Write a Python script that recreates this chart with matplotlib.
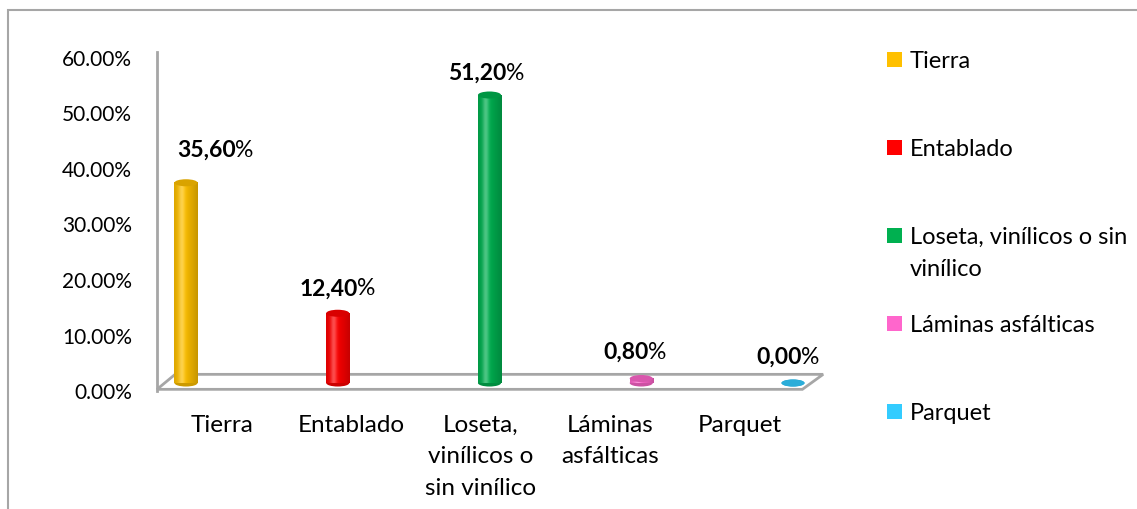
import numpy as np
import matplotlib
matplotlib.use("Agg")
import matplotlib.pyplot as plt
from matplotlib.patches import Ellipse, Polygon, Rectangle
from matplotlib.colors import to_rgb

# === Datos ===
categorias = ["Tierra", "Entablado", "Loseta, vinílicos o sin vinílico",
              "Láminas asfálticas", "Parquet"]
etiquetas_x = ["Tierra", "Entablado", "Loseta,\nvinílicos o\nsin vinílico",
               "Láminas\nasfálticas", "Parquet"]
etiquetas_leyenda = ["Tierra", "Entablado", "Loseta, vinílicos o sin\nvinílico",
                     "Láminas asfálticas", "Parquet"]
valores = [35.6, 12.4, 51.2, 0.8, 0.0]
textos_valor = ["35,60", "12,40", "51,20", "0,80", "0,00"]
colores = ["#FFC000", "#FF0000", "#00B050", "#FF66CC", "#33CCFF"]
ticks_y = [0, 10, 20, 30, 40, 50, 60]

# desplazamientos de las etiquetas de datos (px)
label_dx = [29, -1, -4, -7, -6]
label_dy = [26, 18, 15, 20, 19]

plt.rcParams["font.family"] = ["Lato", "DejaVu Sans"]

W, H = 1137, 509
fig = plt.figure(figsize=(W / 100, H / 100), dpi=100)

# marco exterior del grafico
fig.patches.append(Rectangle((8 / W, -0.1), 1.2, (H - 10) / H + 0.1,
                             transform=fig.transFigure, fill=False,
                             edgecolor="#A6A6A6", lw=1.5))

pos = [157 / W, (H - 391) / H, 648 / W, 333 / H]

# === Eje principal (escala y categorias) ===
ax = fig.add_axes(pos)
ax.set_xlim(-0.5, 4.5)
ax.set_ylim(0, 60)
ax.set_yticks(ticks_y)
ax.set_yticklabels([f"{t:.2f}%" for t in ticks_y], fontsize=15)
ax.set_xticks(range(len(categorias)))
ax.set_xticklabels(etiquetas_x, fontsize=17.5, linespacing=1.62, va="top")
ax.tick_params(length=0)
ax.tick_params(axis="y", pad=18)
ax.tick_params(axis="x", pad=17)
for s in ["top", "right", "bottom"]:
    ax.spines[s].set_visible(False)
ax.spines["left"].set_color("#A6A6A6")
ax.spines["left"].set_linewidth(2)
ax.spines["left"].set_bounds(0, 61)

# piso en perspectiva
piso = Polygon([(-0.5, 0.3), (4.48, 0.3), (4.64, 3.0), (-0.36, 3.0)],
               closed=True, fill=False, edgecolor="#A6A6A6", lw=2, clip_on=False)
ax.add_patch(piso)

# === Eje de cilindros ===
ax2 = fig.add_axes(pos)
ax2.set_axis_off()
x0, x1 = -0.191, 4.079
y0, y1 = -1.42, 57.78
ancho = 0.152
tapa = 1.25


def sombreado(color):
    c = np.array(to_rgb(color))
    t = np.linspace(0, 1, 60)
    oscuro = 0.22 * np.abs(t - 0.38) / 0.62
    brillo = 0.3 * np.exp(-((t - 0.32) / 0.13) ** 2)
    col = c[None, :] * (1 - oscuro[:, None])
    col = col * (1 - brillo[:, None]) + brillo[:, None]
    return np.clip(col, 0, 1)[None, :, :]


for i, (v, c) in enumerate(zip(valores, colores)):
    base = np.array(to_rgb(c))
    ax2.add_patch(Ellipse((i, 0), ancho, tapa, facecolor=base * 0.8,
                          edgecolor="none", zorder=2))
    if v > 0:
        ax2.imshow(sombreado(c), extent=(i - ancho / 2, i + ancho / 2, 0, v),
                   aspect="auto", interpolation="bilinear", zorder=3)
    ax2.add_patch(Ellipse((i, v), ancho, tapa, facecolor=base * 0.85,
                          edgecolor="none", zorder=4))
    t = ax2.annotate(textos_valor[i], xy=(i, v), xytext=(label_dx[i] - 8, label_dy[i]),
                     textcoords="offset pixels", ha="center", va="baseline",
                     fontsize=16.5, fontweight="bold", color="black")
    ax2.annotate("%", xy=(1, 0), xycoords=t, xytext=(-1, 0),
                 textcoords="offset pixels", ha="left", va="bottom",
                 fontsize=16.5, color="black")

ax2.set_xlim(x0, x1)
ax2.set_ylim(y0, y1)

# === Leyenda manual ===
for i, (lab, c) in enumerate(zip(etiquetas_leyenda, colores)):
    ycen = 59.5 + 88 * i
    fig.patches.append(Rectangle((887 / W, (H - ycen - 7.5) / H), 15 / W, 15 / H,
                                 transform=fig.transFigure, facecolor=c,
                                 edgecolor="none"))
    for k, linea in enumerate(lab.split("\n")):
        fig.text(910 / W, (H - ycen - 8 - 32 * k) / H, linea, fontsize=17,
                 ha="left", va="baseline", transform=fig.transFigure)

fig.savefig("out.png", dpi=100)
